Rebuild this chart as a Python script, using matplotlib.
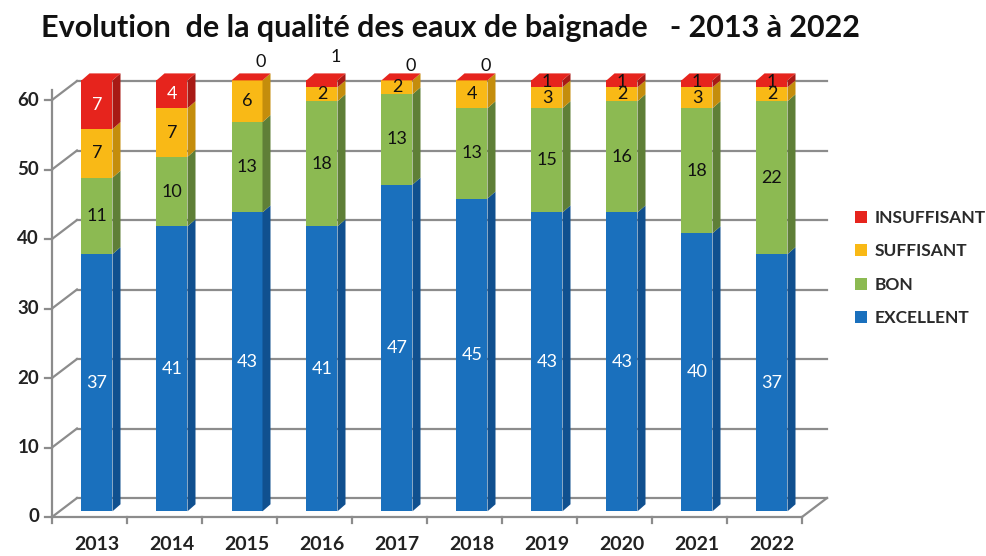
import numpy as np
import matplotlib.pyplot as plt
from matplotlib.patches import Polygon, Rectangle, Patch

years = ['2013', '2014', '2015', '2016', '2017', '2018', '2019', '2020', '2021', '2022']
excellent = [37, 41, 43, 41, 47, 45, 43, 43, 40, 37]
bon = [11, 10, 13, 18, 13, 13, 15, 16, 18, 22]
suffisant = [7, 7, 6, 2, 2, 4, 3, 2, 3, 2]
insuffisant = [7, 4, 0, 1, 0, 0, 1, 1, 1, 1]

series = [('EXCELLENT', excellent), ('BON', bon), ('SUFFISANT', suffisant), ('INSUFFISANT', insuffisant)]
face = {'EXCELLENT': '#1a70bd', 'BON': '#8cba52', 'SUFFISANT': '#f9b916', 'INSUFFISANT': '#e6241d'}
side = {'EXCELLENT': '#10508f', 'BON': '#5f7f37', 'SUFFISANT': '#c48d0c', 'INSUFFISANT': '#a81a15'}
label_col = {'EXCELLENT': 'white', 'BON': '#111111', 'SUFFISANT': '#111111', 'INSUFFISANT': 'white'}

# labels of the top (red) segment that Excel pushed above the bar, in px
red_lift = [0, 0, 18, 23, 14, 14, 0, 0, 0, 0]

W, H = 987, 556
PXX, PXY = 75.0, 6.95          # px per category / per unit
X0PX, Y0PX = 52, 517           # front floor origin in px

fig = plt.figure(figsize=(W / 100, H / 100), dpi=100)
ax = fig.add_axes([0, 0, 1, 1])
ax.set_xlim(-0.5 - X0PX / PXX, -0.5 + (W - X0PX) / PXX)
ax.set_ylim(-(H - Y0PX) / PXY, Y0PX / PXY)
ax.axis('off')

def px(dx, dy):
    return dx / PXX, dy / PXY

wdx, wdy = px(25, 19)      # wall depth
bdx, bdy = px(8, 7)        # bar depth
sdx, sdy = px(7.5, 5.7)    # bar position inside the box
bw = 31 / PXX
grid = '#8c8c8c'
n = len(years)

# walls / grid
for v in range(0, 61, 10):
    ax.plot([-0.5 + wdx, n - 0.5 + wdx], [v + wdy, v + wdy], color=grid, lw=1.6, zorder=1)
    ax.plot([-0.5, -0.5 + wdx], [v, v + wdy], color=grid, lw=1.6, zorder=1)
    ax.plot([-0.5 - 7 / PXX, -0.5], [v, v], color=grid, lw=1.6, zorder=1)
    ax.text(-0.5 - 13 / PXX, v, str(v), ha='right', va='center', fontsize=13.5,
            fontweight='bold', color='#222222', family='Lato')
ax.plot([-0.5, -0.5], [0, 61.5], color=grid, lw=1.6, zorder=1)
ax.plot([-0.5, n - 0.5], [0, 0], color=grid, lw=1.6, zorder=1)
ax.plot([n - 0.5, n - 0.5 + wdx], [0, wdy], color=grid, lw=1.6, zorder=1)
for k in range(n + 1):
    ax.plot([k - 0.5, k - 0.5], [0, -6 / PXY], color=grid, lw=1.6, zorder=1)

# bars
for i, yr in enumerate(years):
    xl = i - bw / 2 + sdx
    xr = xl + bw
    base = sdy
    for name, vals in series:
        h = vals[i]
        top = base + h
        ax.add_patch(Rectangle((xl, base), bw, h, facecolor=face[name], edgecolor='none', zorder=3))
        ax.add_patch(Polygon([(xr, base), (xr + bdx, base + bdy), (xr + bdx, top + bdy), (xr, top)],
                             facecolor=side[name], edgecolor='none', zorder=3))
        cx = (xl + xr) / 2
        if name == 'INSUFFISANT':
            ax.add_patch(Polygon([(xl, top), (xr, top), (xr + bdx, top + bdy), (xl + bdx, top + bdy)],
                                 facecolor=face[name], edgecolor='none', zorder=3))
            if red_lift[i]:
                ax.text(cx + 14 / PXX, top + red_lift[i] / PXY, str(h), ha='center', va='center',
                        fontsize=13, color='#111111', family='Lato', zorder=5)
                base = top
                continue
        col = label_col[name] if h >= 2 else '#111111'
        dy = 2 / PXY if (name == 'INSUFFISANT' and h < 2) else 0
        ax.text(cx, base + h / 2 + dy, str(h), ha='center', va='center', fontsize=13,
                color=col, family='Lato', zorder=5)
        base = top
    ax.text(i + 0.1, -28 / PXY, yr, ha='center', va='center', fontsize=14,
            fontweight='bold', color='#222222', family='Lato')

fig.text(450 / W, 1 - 28 / H, 'Evolution  de la qualité des eaux de baignade   - 2013 à 2022',
         ha='center', va='center', fontsize=22, fontweight='bold', color='#111111', family='Lato')

handles = [Patch(facecolor=face[nm], edgecolor='none', label=nm)
           for nm in ['INSUFFISANT', 'SUFFISANT', 'BON', 'EXCELLENT']]
leg = fig.legend(handles=handles, loc='upper left', bbox_to_anchor=(848 / W, 1 - 203 / H),
                 frameon=False, fontsize=12.5, handlelength=0.7, handleheight=0.7,
                 handletextpad=0.45, labelspacing=1.0, borderaxespad=0)
for t in leg.get_texts():
    t.set_family('Lato')
    t.set_fontweight('bold')
    t.set_color('#2a2a2a')

fig.savefig('out.png', dpi=100)
